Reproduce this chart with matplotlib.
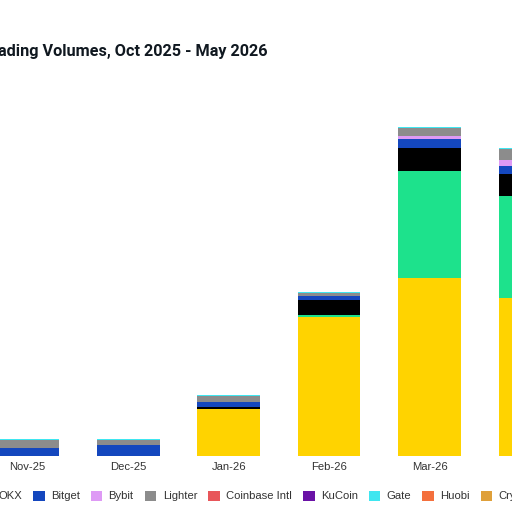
import matplotlib
matplotlib.use("Agg")
import matplotlib.pyplot as plt
from matplotlib.patches import Patch
import numpy as np

plt.rcParams['font.family'] = ['Liberation Sans', 'DejaVu Sans']

# monthly volumes (arbitrary units)
months = ['Nov-25', 'Dec-25', 'Jan-26', 'Feb-26', 'Mar-26', 'Apr-26']
venues = ['Binance', 'Hyperliquid', 'OKX', 'Bitget', 'Bybit', 'Lighter',
          'Coinbase Intl', 'KuCoin', 'Gate', 'Huobi', 'Crypto.com']
colors = ['#FFD300', '#1DE28C', '#000000', '#1447BE', '#DE9AF5', '#8C8C8C',
          '#E8565A', '#6A12A6', '#3FE6F0', '#F4703D', '#DFA03A']

binance = [0, 0, 4.7, 13.9, 17.8, 15.8]
hyperliquid = [0, 0, 0.05, 0.25, 10.7, 10.2]
okx = [0, 0, 0.2, 1.5, 2.3, 2.2]
bitget = [0.8, 1.1, 0.5, 0.4, 0.9, 0.8]
bybit = [0, 0, 0, 0, 0.26, 0.57]
lighter = [0.77, 0.54, 0.6, 0.3, 0.84, 1.17]
coinbase = [0, 0, 0, 0, 0, 0]
kucoin = [0, 0, 0, 0, 0, 0]
gate = [0.17, 0.1, 0.07, 0.08, 0.1, 0.05]
huobi = [0, 0, 0, 0, 0, 0]
cryptocom = [0, 0, 0, 0, 0, 0]

series = [binance, hyperliquid, okx, bitget, bybit, lighter,
          coinbase, kucoin, gate, huobi, cryptocom]

fig = plt.figure(figsize=(5.12, 5.12), dpi=100)
ax = fig.add_axes([0, 56 / 512, 1, 456 / 512])

x = np.arange(len(months))
bottom = np.zeros(len(months))
for vals, c, name in zip(series, colors, venues):
    ax.bar(x, vals, bottom=bottom, width=0.623, color=c, linewidth=0, label=name)
    bottom += np.array(vals)

ax.set_yticks([])
ax.set_xticks(x)
ax.set_xticklabels(months, fontsize=8.1, color='#333333')
ax.tick_params(axis='x', length=0, pad=4)
ax.set_xlim(-0.2756, 4.819)
ax.set_ylim(0, 45.6)
for s in ax.spines.values():
    s.set_visible(False)

title_kw = dict(fontweight='bold', family=['Roboto', 'DejaVu Sans'])
title = fig.text(268 / 512, (512 - 56) / 512, 'Trading Volumes, Oct 2025 - May 2026',
                 ha='right', va='baseline', fontsize=13.3, color='#101820', **title_kw)

handles = [Patch(facecolor=c, edgecolor='none') for c in colors]
leg = fig.legend(handles, venues, ncol=len(venues), loc='center left',
                 bbox_to_anchor=(0, 16 / 512), frameon=False, fontsize=8.1,
                 handlelength=1.05, handleheight=1.0, handletextpad=0.55,
                 columnspacing=0.97, borderpad=0, borderaxespad=0)
for t in leg.get_texts():
    t.set_color('#333333')

# fit title width and shift legend so the visible parts line up
fig.canvas.draw()
probe = fig.text(0, 0, 'ading Volumes, Oct 2025 - May 2026', fontsize=13.3, **title_kw)
w = probe.get_window_extent().width
probe.remove()
title.set_fontsize(13.3 * 272 / w)

bb = leg.get_texts()[3].get_window_extent()
leg.set_bbox_to_anchor(((50.7 - bb.x0) / 512, 16 / 512), transform=fig.transFigure)

fig.savefig('out.png', dpi=100)
